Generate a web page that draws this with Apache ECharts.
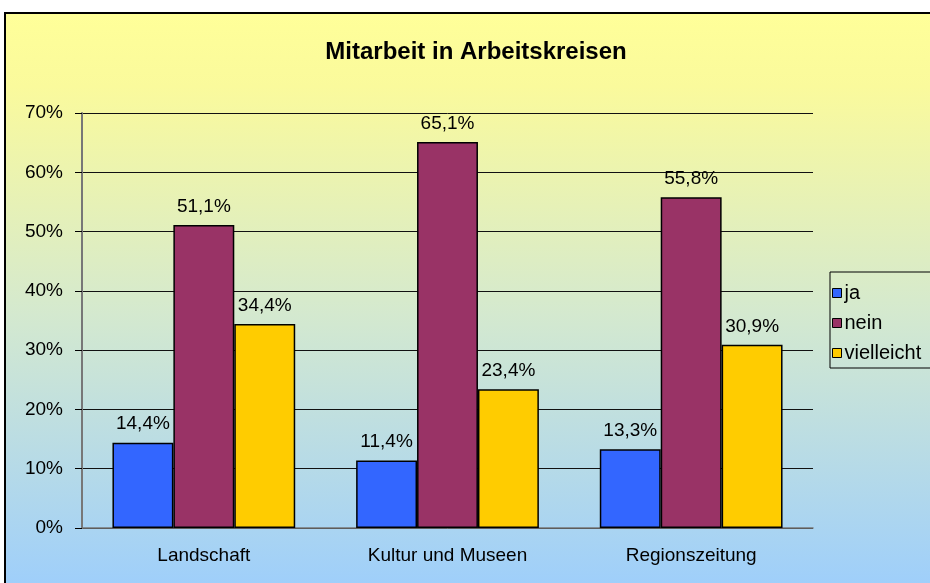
<!DOCTYPE html>
<html>
<head>
    <meta charset="utf-8">
    <title>Mitarbeit in Arbeitskreisen</title>
    <script src="https://cdn.jsdelivr.net/npm/echarts@6/dist/echarts.min.js"></script>
    <style>
        body { margin: 0; overflow: hidden; }
        #frame {
            position: absolute; left: 4px; top: 12px; width: 950px; height: 600px;
            border: 2px solid #000;
            background: linear-gradient(to bottom, #FFFF99 0%, #FAFA9C 12%, #D4E9CF 50%, #99CCFF 100%);
        }
        #chart { position: absolute; left: 0; top: 0; width: 930px; height: 583px; }
    </style>
</head>
<body>
    <div id="frame"></div>
    <div id="chart"></div>

    <script>
        // Daten
        const categories = ['Landschaft', 'Kultur und Museen', 'Regionszeitung'];
        const ja = [14.4, 11.4, 13.3];
        const nein = [51.1, 65.1, 55.8];
        const vielleicht = [34.4, 23.4, 30.9];
        const yTicks = [0, 10, 20, 30, 40, 50, 60, 70];

        const font = 'Liberation Sans, Arial, sans-serif';
        const pct = v => String(v).replace('.', ',') + '%';

        const myChart = echarts.init(document.getElementById('chart'));

        function bar(name, data, color) {
            return {
                name: name,
                type: 'bar',
                data: data,
                barGap: 0,
                barCategoryGap: '25%',
                itemStyle: { color: color, borderColor: '#000', borderWidth: 1.5 },
                label: {
                    show: true,
                    position: 'top',
                    distance: 9,
                    color: '#000',
                    fontFamily: font,
                    fontSize: 19,
                    formatter: p => pct(p.value)
                }
            };
        }

        const option = {
            backgroundColor: 'transparent',
            animation: false,
            title: {
                text: 'Mitarbeit in Arbeitskreisen',
                left: 471,
                textAlign: 'center',
                top: 35,
                textStyle: { fontFamily: font, fontSize: 24, fontWeight: 'bold', color: '#000' }
            },
            legend: {
                orient: 'vertical',
                left: 830,
                top: 272,
                padding: [11, 40, 5, 2],
                itemGap: 10,
                itemWidth: 9,
                itemHeight: 9,
                borderColor: '#000',
                borderWidth: 1,
                icon: 'rect',
                itemStyle: { borderColor: '#000', borderWidth: 1 },
                textStyle: { fontFamily: font, fontSize: 20, color: '#000', lineHeight: 20, padding: [0, 0, 0, -2] },
                data: ['ja', 'nein', 'vielleicht']
            },
            grid: { left: 82, right: 117, top: 113, bottom: 55 },
            xAxis: {
                type: 'category',
                data: categories,
                axisLine: { lineStyle: { color: '#777', width: 1.5 } },
                axisTick: { length: 6, lineStyle: { color: '#777' } },
                axisLabel: { margin: 18, color: '#000', fontFamily: font, fontSize: 19 }
            },
            yAxis: {
                type: 'value',
                min: yTicks[0],
                max: yTicks[yTicks.length - 1],
                interval: 10,
                axisLine: { show: true, lineStyle: { color: '#777', width: 2 } },
                axisTick: { show: true, length: 7, lineStyle: { color: '#000' } },
                axisLabel: { margin: 19, color: '#000', fontFamily: font, fontSize: 19, formatter: v => v + '%' },
                splitLine: { lineStyle: { color: '#111', width: 1 } }
            },
            series: [
                bar('ja', ja, '#3366FF'),
                bar('nein', nein, '#993366'),
                bar('vielleicht', vielleicht, '#FFCC00')
            ]
        };

        myChart.setOption(option);
    </script>
</body>
</html>
